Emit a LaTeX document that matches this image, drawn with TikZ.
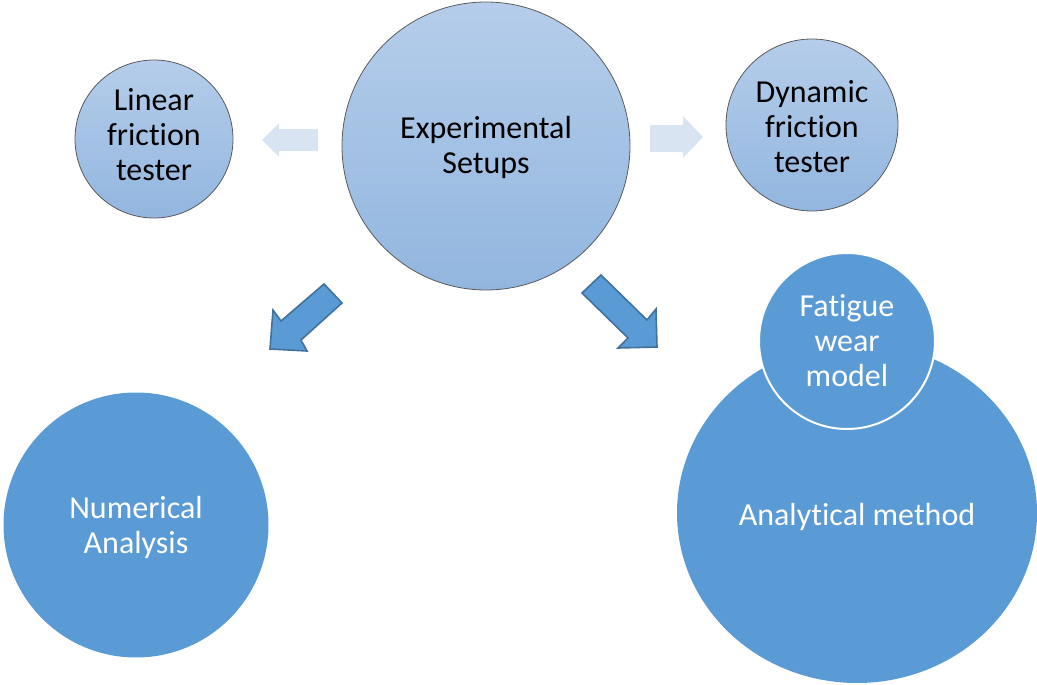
\documentclass[tikz,border=0pt]{standalone}
\usepackage{fontspec}
\setmainfont{Carlito}[Ligatures=NoCommon]
\usetikzlibrary{shapes.geometric}

\definecolor{topblue}{HTML}{B5CDEA}
\definecolor{botblue}{HTML}{92B6DF}
\definecolor{solidblue}{HTML}{5B9BD5}
\definecolor{edgeblue}{HTML}{41719C}
\definecolor{paleblue}{HTML}{D9E4F3}
\definecolor{ringgray}{HTML}{5A5A5A}

\tikzset{
  txt/.style={font=\fontsize{32}{35}\selectfont, align=center, inner sep=0pt},
  darktxt/.style={txt, text=black},
  lighttxt/.style={txt, text=white},
  upperball/.style={circle, inner sep=0pt, top color=topblue, bottom color=botblue,
    draw=ringgray, line width=0.8pt},
  lowerball/.style={circle, inner sep=0pt, fill=solidblue},
  palearrow/.style={fill=paleblue, draw=none},
  darkarrow/.style={fill=solidblue, draw=edgeblue, line width=1.6pt, line join=miter}
}

\begin{document}
\begin{tikzpicture}[x=1pt, y=-1pt]
  \useasboundingbox (0,0) rectangle (1037,685);

  % upper row: gradient circles
  \node[upperball, minimum size=288pt] (exp) at (486,146) {};
  \node[upperball, minimum size=158pt] (lin) at (154,139) {};
  \node[upperball, minimum size=172pt] (dyn) at (812,125) {};
  \node[darktxt] (exp-t) at (486,147) {Experimental\\Setups};
  \node[darktxt] (lin-t) at (154,135) {Linear\\friction\\tester};
  \node[darktxt] (dyn-t) at (812,127) {Dynamic\\friction\\tester};

  % lower row: solid circles
  \node[lowerball, minimum size=265pt] (num) at (136,525) {};
  \node[ellipse, inner sep=0pt, fill=solidblue, minimum width=360pt,
        minimum height=340pt] (ana) at (857,513) {};
  \node[lowerball, minimum size=176pt, draw=white, line width=2pt] (fat) at (847,341) {};
  \node[lighttxt] (num-t) at (136,527) {Numerical\\Analysis};
  \node[lighttxt] (ana-t) at (857,517) {Analytical method};
  \node[lighttxt] (fat-t) at (847,341) {Fatigue\\wear\\model};

  % pale block arrows beside the central circle
  \path[palearrow] (318,129) -- (279,129) -- (279,123) -- (262,140) -- (279,157)
        -- (279,151) -- (318,151) -- cycle;
  \path[palearrow] (650,125) -- (683,125) -- (683,116) -- (703,137) -- (683,158)
        -- (683,152) -- (650,152) -- cycle;

  % solid block arrows pointing down to the lower row
  \draw[darkarrow] (324,284) -- (342,303) -- (301,340) -- (307,351) -- (270,349)
        -- (273,310) -- (281,321) -- cycle;
  \draw[darkarrow] (601,275) -- (582,293) -- (628,338) -- (618,348) -- (657,347)
        -- (656,309) -- (647,320) -- cycle;
\end{tikzpicture}
\end{document}
